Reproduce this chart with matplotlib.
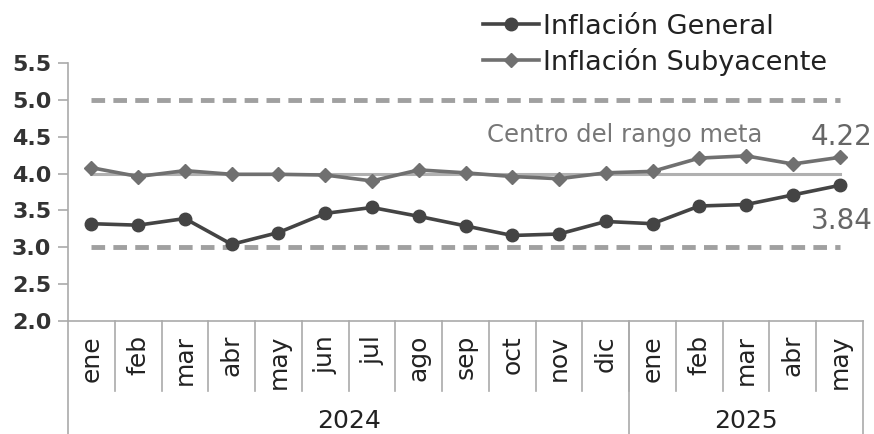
import matplotlib.pyplot as plt
import numpy as np

meses = ["ene", "feb", "mar", "abr", "may", "jun", "jul", "ago", "sep", "oct", "nov", "dic",
         "ene", "feb", "mar", "abr", "may"]
anios = ["2024", "2025"]
meses_por_anio = [12, 5]
general = [3.32, 3.30, 3.39, 3.04, 3.20, 3.46, 3.54, 3.42, 3.29, 3.16, 3.18, 3.35,
           3.32, 3.56, 3.58, 3.71, 3.84]
subyacente = [4.08, 3.96, 4.04, 3.99, 3.99, 3.98, 3.90, 4.05, 4.01, 3.96, 3.93, 4.01,
              4.03, 4.21, 4.24, 4.13, 4.22]
meta_centro = 4.0
meta_inf = 3.0
meta_sup = 5.0
yticks = [2.0, 2.5, 3.0, 3.5, 4.0, 4.5, 5.0, 5.5]

W, H = 874, 434
fig = plt.figure(figsize=(W / 100, H / 100), dpi=100)
ax = fig.add_axes([68 / W, 1 - 321 / H, (863 - 68) / W, (321 - 63) / H])

x = np.arange(len(meses))
n = len(meses)

# banda meta
ax.plot([0, n - 1], [meta_sup, meta_sup], color="#a0a0a0", lw=3.5, dashes=(2.8, 1.7),
        solid_capstyle="butt", dash_capstyle="butt", zorder=1)
ax.plot([0, n - 1], [meta_inf, meta_inf], color="#a0a0a0", lw=3.5, dashes=(2.8, 1.7),
        solid_capstyle="butt", dash_capstyle="butt", zorder=1)
ax.plot([0, n - 1], [meta_centro, meta_centro], color="#b0b0b0", lw=2.2, zorder=2)

ax.plot(x, general, color="#444444", lw=2.6, marker="o", markersize=9, zorder=4,
        label="Inflación General")
ax.plot(x, subyacente, color="#707070", lw=2.6, marker="D", markersize=7, zorder=3,
        label="Inflación Subyacente")

ax.set_xlim(-0.5, n - 0.5)
ax.set_ylim(2.0, 5.5)
ax.set_yticks(yticks)
ax.set_yticklabels([f"{v:.1f}" for v in yticks], fontsize=16, fontweight="bold", color="#333333")
ax.tick_params(axis="y", length=7, width=1.2, color="#aaaaaa", pad=5)
ax.set_xticks([])

for s in ["top", "right"]:
    ax.spines[s].set_visible(False)
ax.spines["left"].set_color("#aaaaaa")
ax.spines["left"].set_linewidth(1.2)
ax.spines["bottom"].set_color("#aaaaaa")
ax.spines["bottom"].set_linewidth(1.2)

tr = ax.get_xaxis_transform()
ah = 321 - 63
y_mes = -(391 - 321) / ah
y_fondo = -(434 - 321) / ah - 0.05

# etiquetas de meses y separadores
for i, m in enumerate(meses):
    ax.text(i, -(335 - 321) / ah, m, transform=tr, rotation=90, ha="center", va="top",
            fontsize=18, color="#222222")
    if i > 0:
        ax.plot([i - 0.5, i - 0.5], [0, y_mes], transform=tr, color="#aaaaaa", lw=1.2,
                clip_on=False)

ax.plot([-0.5, -0.5], [0, y_fondo], transform=tr, color="#aaaaaa", lw=1.2, clip_on=False)
inicio = -0.5
for a, k in zip(anios, meses_por_anio):
    fin = inicio + k
    ax.plot([fin, fin], [0, y_fondo], transform=tr, color="#aaaaaa", lw=1.2, clip_on=False)
    ax.text((inicio + fin) / 2, -(421 - 321) / ah, a, transform=tr, ha="center", va="center",
            fontsize=18, color="#222222")
    inicio = fin

ax.text(487 / W, 1 - 135 / H, "Centro del rango meta", transform=fig.transFigure, ha="left",
        va="center", fontsize=17.5, color="#777777")
ax.text(n - 1 + 0.7, subyacente[-1] + 0.28, f"{subyacente[-1]:.2f}", ha="right", va="center",
        fontsize=20, color="#666666")
ax.text(n - 1 + 0.7, general[-1] - 0.48, f"{general[-1]:.2f}", ha="right", va="center",
        fontsize=20, color="#666666")

leg = ax.legend(loc="upper left", bbox_to_anchor=(469 / W, 1.0), bbox_transform=fig.transFigure,
                frameon=False, fontsize=19.5, handlelength=2.1, handletextpad=0.15,
                labelspacing=0.3, borderaxespad=0.1)
for t in leg.get_texts():
    t.set_color("#222222")

fig.savefig("out.png", dpi=100)
